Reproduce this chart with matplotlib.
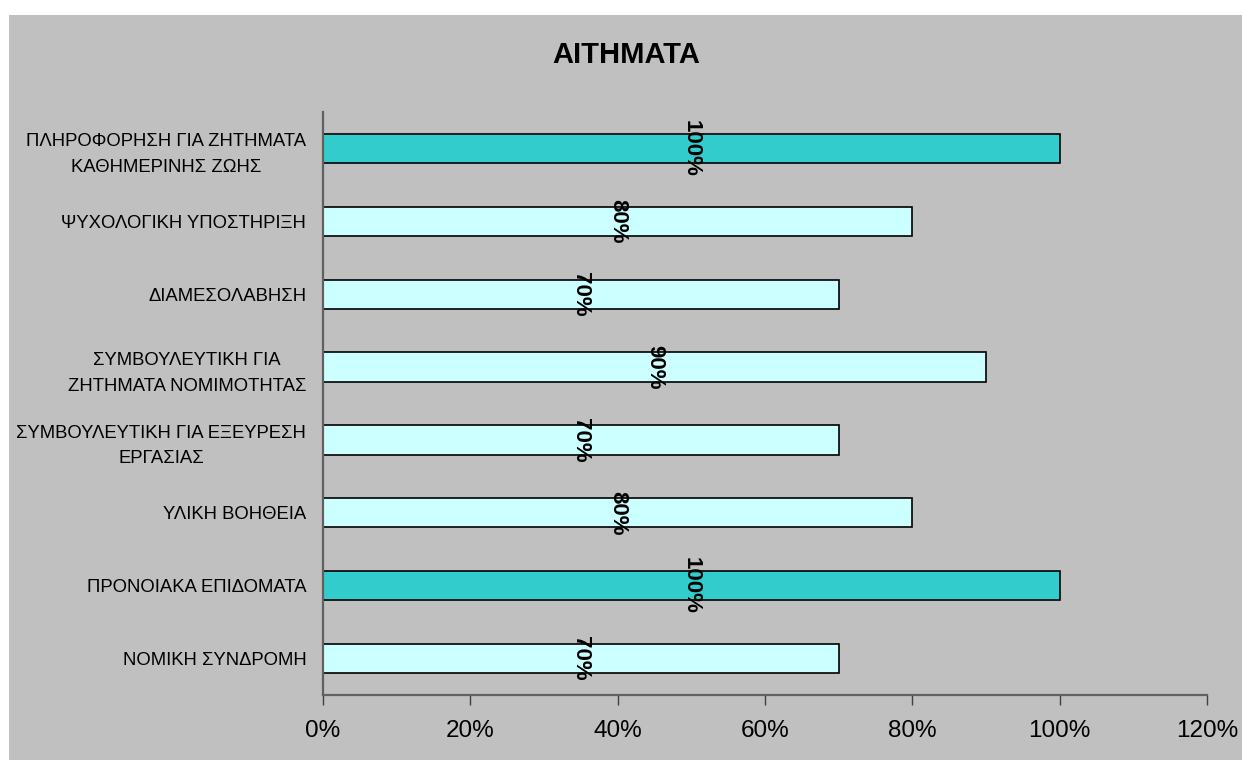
import matplotlib
matplotlib.use("Agg")
import matplotlib.pyplot as plt
from matplotlib.patches import Rectangle
from matplotlib.ticker import PercentFormatter

plt.rcParams["font.family"] = ["Liberation Sans", "DejaVu Sans"]

title = "ΑΙΤΗΜΑΤΑ"
categories = [
    "ΠΛΗΡΟΦΟΡΗΣΗ ΓΙΑ ΖΗΤΗΜΑΤΑ\nΚΑΘΗΜΕΡΙΝΗΣ ΖΩΗΣ",
    "ΨΥΧΟΛΟΓΙΚΗ ΥΠΟΣΤΗΡΙΞΗ",
    "ΔΙΑΜΕΣΟΛΑΒΗΣΗ",
    "ΣΥΜΒΟΥΛΕΥΤΙΚΗ ΓΙΑ\nΖΗΤΗΜΑΤΑ ΝΟΜΙΜΟΤΗΤΑΣ",
    "ΣΥΜΒΟΥΛΕΥΤΙΚΗ ΓΙΑ ΕΞΕΥΡΕΣΗ\nΕΡΓΑΣΙΑΣ",
    "ΥΛΙΚΗ ΒΟΗΘΕΙΑ",
    "ΠΡΟΝΟΙΑΚΑ ΕΠΙΔΟΜΑΤΑ",
    "ΝΟΜΙΚΗ ΣΥΝΔΡΟΜΗ",
]
values = [100, 80, 70, 90, 70, 80, 100, 70]
x_ticks = [0, 20, 40, 60, 80, 100, 120]

BG = "#c0c0c0"
fig = plt.figure(figsize=(12.42, 7.6), dpi=100, facecolor="white")
# gray chart area (white margin top and left)
fig.patches.append(Rectangle((9 / 1242, 0), 1, 1 - 15 / 760, transform=fig.transFigure,
                             facecolor=BG, edgecolor="none", zorder=-10))

ax = fig.add_axes([323 / 1242, 1 - 695 / 760, (1207 - 323) / 1242, (695 - 112) / 760])
ax.set_facecolor(BG)

colors = ["#33cccc" if v == max(values) else "#ccffff" for v in values]
pos = range(len(categories))
ax.barh(pos, values, height=0.4, color=colors, edgecolor="black", linewidth=1.2, zorder=2)

for p, v in zip(pos, values):
    ax.text(v / 2, p, f"{v}%", rotation=-90, ha="center", va="center",
            fontsize=16, fontweight="bold", zorder=3)

ax.set_yticks(list(pos))
ax.set_yticklabels(categories, fontsize=13.3, multialignment="center", linespacing=1.65)
ax.set_ylim(len(categories) - 0.5, -0.5)
ax.set_xlim(0, 120)
ax.set_xticks(x_ticks)
ax.xaxis.set_major_formatter(PercentFormatter(decimals=0))
ax.tick_params(axis="x", labelsize=17.5, length=7, width=1, color="#404040", pad=11, direction="out")
ax.tick_params(axis="y", length=0, pad=12)

for side in ["top", "right"]:
    ax.spines[side].set_visible(False)
for side in ["left", "bottom"]:
    ax.spines[side].set_color("#606060")
    ax.spines[side].set_linewidth(1.6)

fig.text(626 / 1242, 1 - 55 / 760, title, ha="center", va="center",
         fontsize=21, fontweight="bold")

fig.savefig("out.png", dpi=100, facecolor=fig.get_facecolor())
